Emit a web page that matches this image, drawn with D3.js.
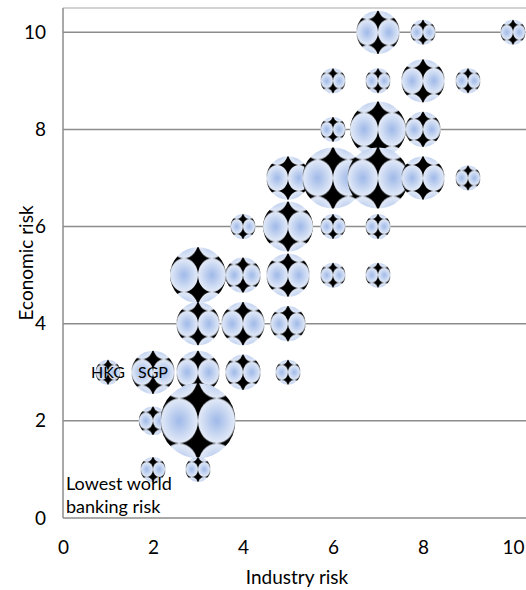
<!DOCTYPE html>
<html>
<head>
<meta charset="utf-8">
<script src="https://cdn.jsdelivr.net/npm/d3@7"></script>
<style>
  body { margin: 0; background: #fff; }
  svg { display: block; font-family: Lato, "Open Sans", sans-serif; }
</style>
</head>
<body>
<div id="chart"></div>
<script>
const width = 526;
const height = 590;

// Industry risk (x), economic risk (y), number of banking systems (size)
const industryRisk = [7, 8, 10, 6, 7, 8, 9, 6, 7, 8, 5, 6, 7, 8, 9, 4, 5, 6, 7, 3, 4, 5, 6, 7, 3, 4, 5, 1, 2, 3, 4, 5, 2, 3, 2, 3];
const economicRisk = [10, 10, 10, 9, 9, 9, 9, 8, 8, 8, 7, 7, 7, 7, 7, 6, 6, 6, 6, 5, 5, 5, 5, 5, 4, 4, 4, 3, 3, 3, 3, 3, 2, 2, 1, 1];
const bubbleSize = [3, 1, 1, 1, 1, 3, 1, 1, 5, 2, 3, 6, 6, 3, 1, 1, 4, 1, 1, 5, 2, 3, 1, 1, 3, 3, 2, 1, 3, 3, 2, 1, 1.3, 9, 1, 1];
const bubbleLabels = {27: 'HKG', 28: 'SGP'};
const xTicks = [0, 2, 4, 6, 8, 10];
const yTicks = [0, 2, 4, 6, 8, 10];

const data = industryRisk.map((x, i) => ({x, y: economicRisk[i], size: bubbleSize[i], label: bubbleLabels[i]}));

const svg = d3.select('#chart')
  .append('svg')
  .attr('width', width)
  .attr('height', height);

// Scales: plot area runs a bit past 10 on both axes
const xscale = d3.scaleLinear().domain([0, 10.5]).range([63, 535.5]);
const yscale = d3.scaleLinear().domain([0, 10.5]).range([518, 8]);
const rscale = d3.scaleSqrt().domain([0, 9]).range([0, 37.5]);

// Bubble fill: tiled ellipses with a blue radial gradient on black
const defs = svg.append('defs');
const grad = defs.append('radialGradient').attr('id', 'ellipse-grad');
grad.append('stop').attr('offset', '0%').attr('stop-color', '#9fb9e8');
grad.append('stop').attr('offset', '100%').attr('stop-color', '#e4ebf8');

const pattern = defs.append('pattern')
  .attr('id', 'bubble-fill')
  .attr('patternUnits', 'objectBoundingBox')
  .attr('patternContentUnits', 'objectBoundingBox')
  .attr('x', 0).attr('y', 0.2)
  .attr('width', 0.5).attr('height', 0.6);
pattern.append('rect')
  .attr('width', 0.5).attr('height', 0.6)
  .attr('fill', '#000');
pattern.append('ellipse')
  .attr('cx', 0.25).attr('cy', 0.3)
  .attr('rx', 0.25).attr('ry', 0.3)
  .attr('fill', 'url(#ellipse-grad)');

// Gridlines
svg.append('g')
  .selectAll('line')
  .data(yTicks.filter(d => d > 0))
  .enter()
  .append('line')
  .attr('x1', xscale(0))
  .attr('x2', width)
  .attr('y1', d => yscale(d))
  .attr('y2', d => yscale(d))
  .attr('stroke', '#8c8c8c')
  .attr('stroke-width', 1.5);

// Plot area frame
svg.append('line')
  .attr('x1', xscale(0)).attr('x2', width)
  .attr('y1', yscale(10.5)).attr('y2', yscale(10.5))
  .attr('stroke', '#c4c4c4').attr('stroke-width', 1.5);
svg.append('line')
  .attr('x1', xscale(0)).attr('x2', width)
  .attr('y1', yscale(0)).attr('y2', yscale(0))
  .attr('stroke', '#8c8c8c').attr('stroke-width', 1.5);
svg.append('line')
  .attr('x1', xscale(0)).attr('x2', xscale(0))
  .attr('y1', yscale(10.5)).attr('y2', yscale(0))
  .attr('stroke', '#8c8c8c').attr('stroke-width', 1.5);

// Axes (labels only)
const xaxis = d3.axisBottom(xscale).tickValues(xTicks).tickSize(0).tickPadding(23);
const yaxis = d3.axisLeft(yscale).tickValues(yTicks).tickSize(0).tickPadding(17);

svg.append('g')
  .attr('transform', 'translate(0,' + yscale(0) + ')')
  .call(xaxis)
  .call(g => g.select('.domain').remove())
  .selectAll('text')
  .attr('font-family', 'Lato, sans-serif')
  .attr('font-size', 19)
  .attr('fill', '#000');

svg.append('g')
  .attr('transform', 'translate(' + xscale(0) + ',0)')
  .call(yaxis)
  .call(g => g.select('.domain').remove())
  .selectAll('text')
  .attr('font-family', 'Lato, sans-serif')
  .attr('font-size', 19)
  .attr('fill', '#000');

// Axis titles
svg.append('text')
  .attr('x', 297)
  .attr('y', 584)
  .attr('text-anchor', 'middle')
  .attr('font-size', 19)
  .text('Industry risk');

svg.append('text')
  .attr('transform', 'translate(33,263) rotate(-90)')
  .attr('text-anchor', 'middle')
  .attr('font-size', 19)
  .text('Economic risk');

// Bubbles
svg.append('g')
  .selectAll('.bubble')
  .data(data)
  .enter()
  .append('circle')
  .attr('class', 'bubble')
  .attr('cx', d => xscale(d.x))
  .attr('cy', d => yscale(d.y))
  .attr('r', d => rscale(d.size))
  .attr('fill', 'url(#bubble-fill)');

// Data labels
svg.append('g')
  .selectAll('.bubble-label')
  .data(data.filter(d => d.label))
  .enter()
  .append('text')
  .attr('class', 'bubble-label')
  .attr('x', d => xscale(d.x))
  .attr('y', d => yscale(d.y) + 6)
  .attr('text-anchor', 'middle')
  .attr('font-size', 16)
  .attr('fill', '#000')
  .text(d => d.label);

// Annotation
const note = svg.append('text')
  .attr('font-size', 18)
  .attr('fill', '#000');
note.append('tspan').attr('x', 66).attr('y', 490).text('Lowest world');
note.append('tspan').attr('x', 66).attr('y', 513).text('banking risk');
</script>
</body>
</html>
